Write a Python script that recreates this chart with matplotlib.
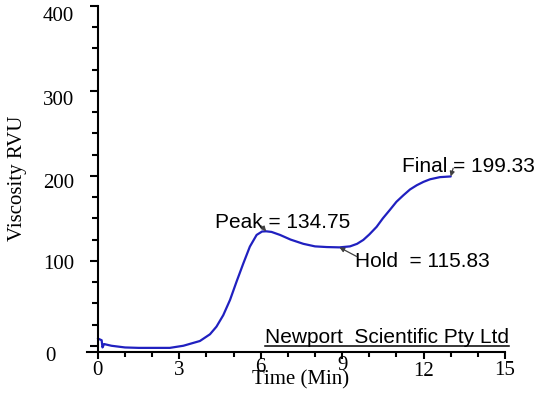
import matplotlib
matplotlib.use("Agg")
import matplotlib.pyplot as plt
from matplotlib.ticker import MultipleLocator, FixedLocator
from matplotlib.lines import Line2D
from matplotlib.transforms import ScaledTranslation

# ---- data ----
time_min = [0.0, 0.14, 0.17, 0.23, 0.5, 1.0, 1.5, 2.0, 2.65, 3.15, 3.76, 4.13, 4.37,
            4.62, 4.87, 5.11, 5.36, 5.6, 5.85, 6.05, 6.2, 6.4, 6.71, 7.1, 7.57, 8.0,
            8.43, 8.9, 9.29, 9.55, 9.78, 10.0, 10.27, 10.5, 10.76, 11.0, 11.25, 11.5,
            11.75, 12.0, 12.24, 12.6, 13.0]
viscosity = [8.5, 6.5, -2.0, 2.0, 0.0, -2.0, -2.5, -2.5, -2.5, 0.0, 5.6, 13.5, 22.5,
             36.0, 54.0, 75.5, 97.0, 116.7, 130.5, 134.5, 134.75, 134.0, 130.5, 125.0,
             120.0, 117.0, 116.2, 115.83, 117.0, 120.0, 124.6, 131.0, 140.0, 150.0,
             160.0, 169.5, 177.0, 184.0, 189.0, 193.0, 196.0, 198.5, 199.33]

x_major = [0, 3, 6, 9, 12, 15]
y_major = [0, 100, 200, 300, 400]
y_labels = ["", "100", "200", "300", "400"]

peak = (6.2, 134.75)
hold = (8.9, 115.83)
final = (13.0, 199.33)
peak_label = "Peak = 134.75"
hold_label = "Hold  = 115.83"
final_label = "Final = 199.33"
brand = "Newport  Scientific Pty Ltd"

serif = "Liberation Serif"
sans = "Liberation Sans"

fig = plt.figure(figsize=(5.4, 3.96), dpi=100)
W, H = 540, 396
ax_l, ax_r, ax_b, ax_t = 87, 505, 351.7, 6
ax = fig.add_axes([ax_l / W, (H - ax_b) / H, (ax_r - ax_l) / W, (ax_b - ax_t) / H])

ax.plot(time_min, viscosity, color="#2020c0", lw=1.6, solid_joinstyle="round",
        solid_capstyle="round")

ax.set_xlim(-0.4, 15)
ax.set_ylim(-7, 400)
ax.spines["top"].set_visible(False)
ax.spines["right"].set_visible(False)
ax.spines["left"].set_position(("data", 0))
for s in ("left", "bottom"):
    ax.spines[s].set_linewidth(1.5)

ax.xaxis.set_major_locator(FixedLocator(x_major))
ax.xaxis.set_minor_locator(MultipleLocator(1))
ax.yaxis.set_major_locator(FixedLocator(y_major))
ax.set_yticklabels(y_labels)
ax.yaxis.set_minor_locator(MultipleLocator(25))

ax.tick_params(axis="x", which="major", direction="out", length=5, width=1.5, pad=1.5,
               labelsize=15, labelfontfamily=serif)
ax.tick_params(axis="x", which="minor", direction="out", length=3.5, width=1.5)
ax.tick_params(axis="y", which="major", direction="out", length=6, width=1.5, pad=11,
               labelsize=15, labelfontfamily=serif)
ax.tick_params(axis="y", which="minor", direction="out", length=4, width=1.5)

# small per-label vertical shifts seen in the reference (pixels, + = up)
y_shift = {"400": -8, "300": -7, "200": -5, "100": -1}
x_shift = {"6": 3, "9": 5, "12": -1}
for lab in ax.get_yticklabels():
    d = y_shift.get(lab.get_text(), 0)
    lab.set_transform(lab.get_transform() + ScaledTranslation(0, d / 100, fig.dpi_scale_trans))
for lab in ax.get_xticklabels():
    d = x_shift.get(lab.get_text(), 0)
    lab.set_transform(lab.get_transform() + ScaledTranslation(0, d / 100, fig.dpi_scale_trans))

ax.text(-0.0885, -0.0153, "0", transform=ax.transAxes, ha="center", va="center",
        fontsize=15, family=serif)

ax.set_xlabel("Time (Min)", fontsize=15, family=serif)
ax.xaxis.set_label_coords(0.512, -0.082)
ax.xaxis.label.set_va("center")
ax.set_ylabel("Viscosity RVU", fontsize=15, family=serif)
ax.yaxis.set_label_coords(-0.166, 0.502)
ax.yaxis.label.set_va("center")

arrow = dict(arrowstyle="-|>", color="#404040", lw=0.9, mutation_scale=7,
             shrinkA=0, shrinkB=0)
ax.text(4.31, 145, peak_label, ha="left", va="center", fontsize=15, family=sans)
ax.annotate("", xy=peak, xytext=(6.03, 141), arrowprops=arrow)
ax.text(9.47, 99, hold_label, ha="left", va="center", fontsize=15, family=sans)
ax.annotate("", xy=hold, xytext=(9.54, 105), arrowprops=arrow)
ax.text(11.2, 211, final_label, ha="left", va="center", fontsize=15, family=sans)
ax.annotate("", xy=final, xytext=(13.09, 209), arrowprops=arrow)

t = ax.text(0.426, 0.0243, brand, transform=ax.transAxes, ha="left", va="baseline",
            fontsize=15, family=sans)
fig.canvas.draw()
bb = t.get_window_extent()
uy = H - 345.7
fig.add_artist(Line2D([bb.x0 / W, bb.x1 / W], [uy / H, uy / H], transform=fig.transFigure,
                      color="black", lw=1.1))

fig.savefig("out.png", dpi=100)
